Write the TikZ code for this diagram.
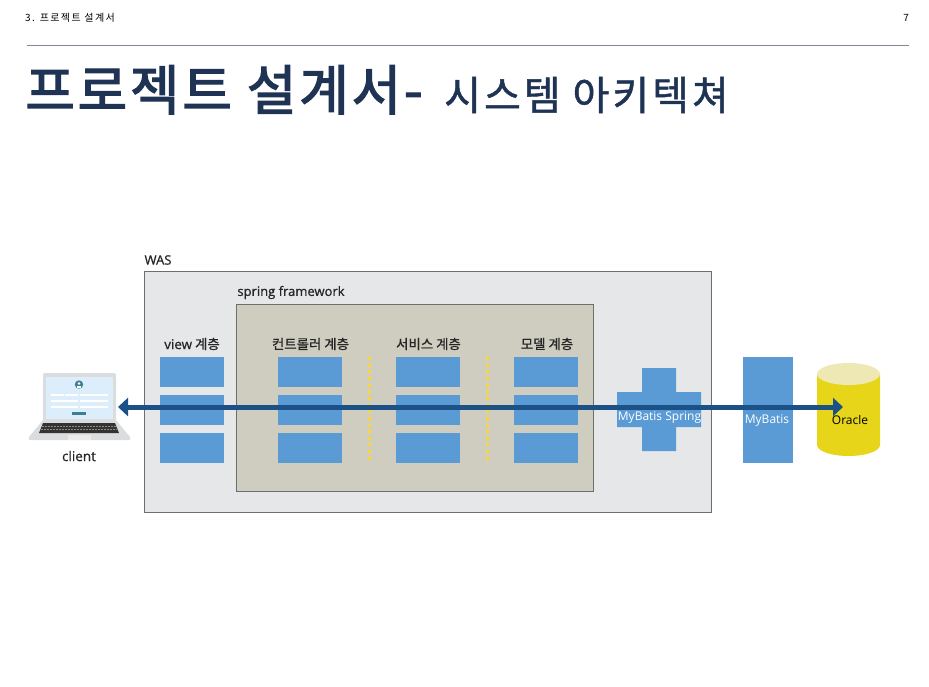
\documentclass[tikz,border=0pt]{standalone}
\usepackage{fontspec}
\setmainfont{Noto Sans CJK KR}
\newfontfamily\latinfont[FakeBold=0.8]{Open Sans}
\newfontfamily\latinplain{Open Sans}
\newfontfamily\labelfont[FakeBold=0.8]{Noto Sans CJK KR}
\newfontfamily\titlefont[FakeBold=2.4,LetterSpace=5]{Noto Sans CJK KR}
\newfontfamily\subtitlefont[FakeBold=1.2,LetterSpace=7.5]{Noto Sans CJK KR}
\newfontfamily\headerfont[LetterSpace=14]{Noto Sans CJK KR}
\usetikzlibrary{arrows.meta}
\definecolor{titleblue}{HTML}{1F3354}
\definecolor{rulegrey}{HTML}{7F8794}
\definecolor{wasgrey}{HTML}{E6E7E9}
\definecolor{springtan}{HTML}{CECDBF}
\definecolor{edgegrey}{HTML}{6D6F6F}
\definecolor{boxblue}{HTML}{5B9BD5}
\definecolor{arrowblue}{HTML}{1B5186}
\definecolor{dotyellow}{HTML}{FFD62B}
\definecolor{dbyellow}{HTML}{E7D519}
\definecolor{dbtop}{HTML}{EDE8B4}
\definecolor{lapgrey}{HTML}{DADCDD}
\definecolor{lapscreen}{HTML}{DCEEFB}
\definecolor{lapteal}{HTML}{3F7F96}
\tikzset{
  layerbox/.style={fill=boxblue,inner sep=0pt,minimum width=64pt,minimum height=30pt},
  layerlabel/.style={inner sep=0pt,font=\labelfont\fontsize{13.4}{15}\selectfont,text=black!85},
  latinlabel/.style={inner sep=0pt,font=\latinfont\fontsize{13}{15}\selectfont,text=black!85},
  whitelabel/.style={inner sep=0pt,font=\latinplain\fontsize{12}{14}\selectfont,text=white},
  layerline/.style={dotyellow,line width=3pt,dash pattern=on 3pt off 3.65pt},
}
\begin{document}
\begin{tikzpicture}[x=1pt,y=-1pt]
\useasboundingbox (0,0) rectangle (929,686);
% header
\node[inner sep=0pt,anchor=west,font=\headerfont\fontsize{10}{12}\selectfont] (header) at (25,18) {3. 프로젝트 설계서};
\node[inner sep=0pt,anchor=east,font=\fontsize{10}{12}\selectfont] (pagenum) at (909,18) {7};
\draw[rulegrey,line width=1pt] (27,45) -- (909,45);
\node[inner sep=0pt,anchor=base west,text=titleblue,font=\titlefont\fontsize{54}{60}\selectfont] (title) at (25,110) {프로젝트 설계서-};
\node[inner sep=0pt,anchor=base west,text=titleblue,font=\subtitlefont\fontsize{40}{46}\selectfont] (subtitle) at (444,110) {시스템 아키텍쳐};
% containers
\draw[edgegrey,fill=wasgrey,line width=1pt] (144,271) rectangle (711,512);
\draw[edgegrey,fill=springtan,line width=1pt] (236,304) rectangle (593,491);
\node[latinlabel] (was) at (158,260) {WAS};
\node[latinlabel] (spring) at (291,292.5) {spring framework};
% layers
\node[layerlabel] (viewlabel) at (192,344) {{\latinfont view} 계층};
\node[layerbox] (view1) at (192,372) {};
\node[layerbox] (view2) at (192,410) {};
\node[layerbox] (view3) at (192,448) {};
\node[layerlabel] (ctrllabel) at (310.5,344) {컨트롤러 계층};
\node[layerbox] (ctrl1) at (310,372) {};
\node[layerbox] (ctrl2) at (310,410) {};
\node[layerbox] (ctrl3) at (310,448) {};
\node[layerlabel] (servlabel) at (428.5,344) {서비스 계층};
\node[layerbox] (serv1) at (428,372) {};
\node[layerbox] (serv2) at (428,410) {};
\node[layerbox] (serv3) at (428,448) {};
\node[layerlabel] (modellabel) at (547,344) {모델 계층};
\node[layerbox] (model1) at (546,372) {};
\node[layerbox] (model2) at (546,410) {};
\node[layerbox] (model3) at (546,448) {};
\draw[layerline] (369,357) -- (369,463);
\draw[layerline] (487,357) -- (487,463);
% mybatis
\fill[boxblue] (642,368) -- (676,368) -- (676,392) -- (701,392) -- (701,427) -- (676,427) -- (676,451) -- (642,451) -- (642,427) -- (617,427) -- (617,392) -- (642,392) -- cycle;
\node[layerbox,minimum width=50pt,minimum height=106pt] (mybatis) at (768,410) {};
% oracle
\fill[dbyellow] (817,374) -- (817,445) arc[start angle=180,end angle=360,x radius=31.5,y radius=-11] -- (880,374) -- cycle;
\fill[dbtop] (848.5,374) ellipse[x radius=31.5,y radius=11];
% client
\fill[lapgrey] (43,420) -- (116,420) -- (130,437) -- (130,440) -- (29,440) -- (29,437) -- cycle;
\fill[lapgrey,rounded corners=2pt] (43,373) rectangle (116,421);
\fill[lapscreen] (46,377) rectangle (113,419);
\fill[lapteal] (79,384.5) circle (4.2);
\fill[white] (79,383.5) circle (1.4);
\fill[white] (76.8,387.5) rectangle (81.2,386);
\fill[white] (51,393.5) rectangle (64,395.5);
\fill[white] (65,393.5) rectangle (78,395.5);
\fill[white] (80,393.5) rectangle (108,395.5);
\fill[white] (51,400) rectangle (78,402);
\fill[white] (80,400) rectangle (108,402);
\fill[white] (51,406) rectangle (78,408);
\fill[white] (80,406) rectangle (108,408);
\fill[lapteal] (72,411.5) rectangle (86,414.5);
\fill[black!80] (43,423) -- (115,423) -- (119,433) -- (39,433) -- cycle;
\draw[white!55!black,line width=.5pt,dash pattern=on 2pt off 1pt] (42,426) -- (116,426);
\draw[white!55!black,line width=.5pt,dash pattern=on 2pt off 1pt] (41,429.5) -- (117,429.5);
\fill[white!92!black] (68,435) rectangle (91,440);
\node[inner sep=0pt,font=\latinfont\fontsize{13.5}{15}\selectfont,text=black!85] (client) at (79,456) {client};
% arrow
\coordinate (arrowleft) at (118,407);
\coordinate (arrowright) at (843,407);
\draw[{Triangle[length=10pt,width=18pt]}-{Triangle[length=10pt,width=18pt]},arrowblue,line width=5pt] (arrowleft) -- (arrowright);
% labels on top
\node[whitelabel] (mbspring) at (659.5,418) {MyBatis Spring};
\node[whitelabel] (mblabel) at (767,421) {MyBatis};
\node[inner sep=0pt,font=\latinplain\fontsize{12}{14}\selectfont,text=black] (oracle) at (850,420) {Oracle};
\end{tikzpicture}
\end{document}
